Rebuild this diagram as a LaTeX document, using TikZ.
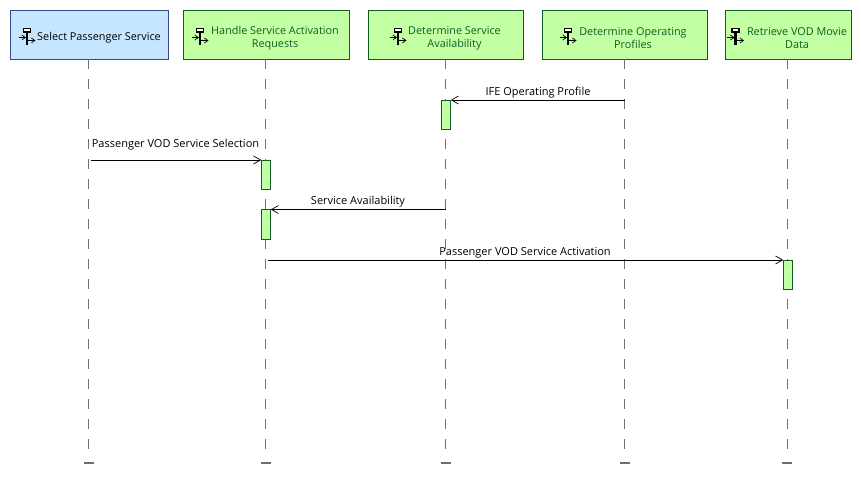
\documentclass[tikz,border=0pt]{standalone}
\usepackage{fontspec}
\usepackage{xcolor}
\usetikzlibrary{arrows.meta}
\setmainfont{Open Sans}
\definecolor{bluefill}{HTML}{C6E6FF}
\definecolor{blueline}{HTML}{3A4A86}
\definecolor{greenfill}{HTML}{C3FFA3}
\definecolor{greenline}{HTML}{0F5C22}
\definecolor{greentext}{HTML}{0E5F24}
\definecolor{lifegray}{HTML}{6E6E6E}

\begin{document}
\begin{tikzpicture}[
    x=1pt, y=-1pt,
    box/.style={rectangle, draw=greenline, fill=greenfill, line width=1pt, inner sep=0pt, outer sep=0pt, minimum height=49pt},
    bluebox/.style={box, draw=blueline, fill=bluefill},
    boxtext/.style={font=\fontsize{10.85}{13}\selectfont, text=greentext, align=center, inner sep=0pt},
    msgtext/.style={font=\fontsize{11}{13}\selectfont, inner sep=0pt},
    act/.style={rectangle, draw=greenline, fill=greenfill, line width=1pt, inner sep=0pt, outer sep=0pt, minimum width=9.5pt, minimum height=29.5pt, anchor=north},
    lifeend/.style={rectangle, fill=lifegray, inner sep=0pt, minimum width=10pt, minimum height=2pt},
    lifeline/.style={lifegray, line width=0.9pt, dash pattern=on 10pt off 10pt, shorten >=3pt},
    msg/.style={-{Straight Barb[length=7pt,width=8pt,line width=0.7pt]}, line width=1pt},
    proc/.pic={
        \fill[black] (-1.4,-8.5) rectangle (1.4,8);
        \draw[line width=1.2pt, fill=white] (-3.5,-8) rectangle (3.5,-4.5);
        \draw[-{Straight Barb[length=3.5pt,width=5pt,line width=0.7pt]}, line width=0.9pt] (-8.5,1) -- (-1,1);
        \draw[-{Straight Barb[length=3.5pt,width=5pt,line width=0.7pt]}, line width=0.9pt] (1,4) -- (8.5,4);
    }
]
    \useasboundingbox (0,0) rectangle (861,480);

    % Function boxes (top)
    \node[bluebox, minimum width=158pt] (sel) at (89,34.5) {};
    \node[box, minimum width=166pt] (hand) at (266,34.5) {};
    \node[box, minimum width=155pt] (avail) at (445.5,34.5) {};
    \node[box, minimum width=165pt] (prof) at (624.5,34.5) {};
    \node[box, minimum width=126pt] (vod) at (788,34.5) {};

    % Box labels
    \node[boxtext, text=black] (selt) at (99,37.7) {Select Passenger Service};
    \node[boxtext] (handt) at (275,38.2) {Handle Service Activation\\Requests};
    \node[boxtext] (availt) at (454.5,38.2) {Determine Service\\Availability};
    \node[boxtext] (proft) at (633,38.2) {Determine Operating\\Profiles};
    \node[boxtext] (vodt) at (797,38.2) {Retrieve VOD Movie\\Data};

    % Icons
    \pic at (27,36.5) {proc};
    \pic at (200,36.5) {proc};
    \pic at (398,36.5) {proc};
    \pic at (568,36.5) {proc};
    \pic at (735.5,36.5) {proc};

    % Lifeline ends
    \node[lifeend] (end1) at (88.5,462.5) {};
    \node[lifeend] (end2) at (265.5,462.5) {};
    \node[lifeend] (end3) at (445.5,462.5) {};
    \node[lifeend] (end4) at (624.5,462.5) {};
    \node[lifeend] (end5) at (787,462.5) {};

    % Lifelines
    \draw[lifeline] (end1 |- sel.south) -- (end1.north);
    \draw[lifeline] (end2 |- hand.south) -- (end2.north);
    \draw[lifeline] (end3 |- avail.south) -- (end3.north);
    \draw[lifeline] (end4 |- prof.south) -- (end4.north);
    \draw[lifeline] (end5 |- vod.south) -- (end5.north);

    % Activations
    \node[act] (act1) at (446,100) {};
    \node[act] (act2) at (266,160) {};
    \node[act] (act3) at (266,209.5) {};
    \node[act] (act4) at (788,260) {};

    % Messages
    \draw[msg] (end4 |- act1.north) -- (act1.north east);
    \draw[msg] ([xshift=2pt]end1 |- act2.north) -- (act2.north west);
    \draw[msg] (end3 |- act3.north) -- (act3.north east);
    \draw[msg] ([xshift=2pt]end2 |- act4.north) -- (act4.north west);

    % Message labels
    \node[msgtext] (m1) at (538,92.5) {IFE Operating Profile};
    \node[msgtext] (m2) at (175.5,144.5) {Passenger VOD Service Selection};
    \node[msgtext] (m3) at (358,201.5) {Service Availability};
    \node[msgtext] (m4) at (525,252.5) {Passenger VOD Service Activation};
\end{tikzpicture}
\end{document}
